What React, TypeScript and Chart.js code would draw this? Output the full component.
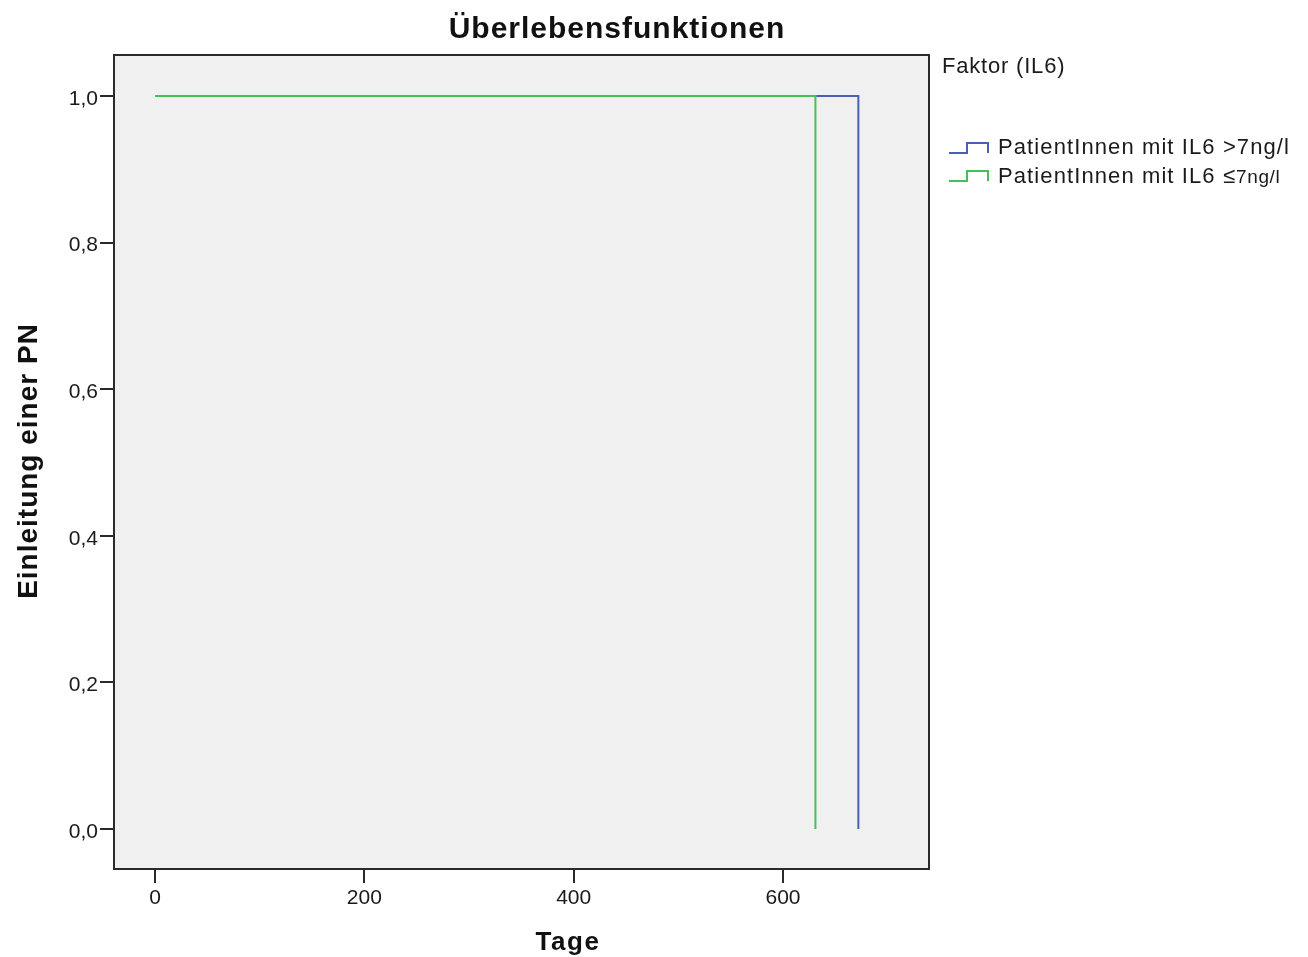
import React, { useEffect, useRef } from "react";
import { Chart, registerables } from "chart.js";

Chart.register(...registerables);

// Kaplan-Meier steps: time in days, cumulative survival
const daysHigh = [0, 672];
const survivalHigh = [1, 0];
const daysLow = [0, 631];
const survivalLow = [1, 0];

const xTickValues = [0, 200, 400, 600];
const yTickValues = [0, 0.2, 0.4, 0.6, 0.8, 1.0];

const chartTitle = "Überlebensfunktionen";
const xTitle = "Tage";
const yTitle = "Einleitung einer PN";
const legendTitle = "Faktor (IL6)";
const legendHighLabel = "PatientInnen mit IL6 >7ng/l";
const legendLowPrefix = "PatientInnen mit IL6 ";
const legendLowSymbol = "≤";
const legendLowUnit = "7ng/l";

const BLUE = "#4a5fb6";
const GREEN = "#45c055";
const FONT = "'Liberation Sans', Arial, sans-serif";

const decorPlugin = {
  id: "spssDecor",
  beforeDatasetsDraw(chart: any) {
    const { ctx, chartArea: a } = chart;
    ctx.save();
    ctx.fillStyle = "#f0f0f0";
    ctx.fillRect(a.left, a.top, a.right - a.left, a.bottom - a.top);
    ctx.restore();
  },
  afterDraw(chart: any) {
    const { ctx, chartArea: a } = chart;
    ctx.save();
    // frame
    ctx.strokeStyle = "#2a2a2a";
    ctx.lineWidth = 2;
    ctx.strokeRect(a.left, a.top, a.right - a.left, a.bottom - a.top);

    ctx.fillStyle = "#111";
    // title
    ctx.font = `bold 30px ${FONT}`;
    (ctx as any).letterSpacing = "1px";
    ctx.textAlign = "center";
    ctx.textBaseline = "alphabetic";
    ctx.fillText(chartTitle, 617, 38);

    // x axis title
    ctx.font = `bold 26px ${FONT}`;
    (ctx as any).letterSpacing = "1.5px";
    ctx.fillText(xTitle, 568, 950);

    // y axis title
    ctx.save();
    ctx.font = `bold 28px ${FONT}`;
    (ctx as any).letterSpacing = "1px";
    ctx.translate(37, 461);
    ctx.rotate(-Math.PI / 2);
    ctx.fillText(yTitle, 0, 0);
    ctx.restore();

    // legend
    ctx.textAlign = "left";
    ctx.fillStyle = "#1a1a1a";
    ctx.font = `22px ${FONT}`;
    (ctx as any).letterSpacing = "0.8px";
    ctx.fillText(legendTitle, 942, 73);

    const drawStep = (color: string, yLow: number) => {
      ctx.strokeStyle = color;
      ctx.lineWidth = 2;
      ctx.beginPath();
      ctx.moveTo(949, yLow);
      ctx.lineTo(967, yLow);
      ctx.lineTo(967, yLow - 10);
      ctx.lineTo(988, yLow - 10);
      ctx.lineTo(988, yLow);
      ctx.stroke();
    };
    drawStep(BLUE, 153);
    drawStep(GREEN, 181);

    (ctx as any).letterSpacing = "1.1px";
    ctx.fillText(legendHighLabel, 998, 154);
    ctx.fillText(legendLowPrefix, 998, 183);
    const w = ctx.measureText(legendLowPrefix).width;
    ctx.fillText(legendLowSymbol, 998 + w, 183);
    const w2 = ctx.measureText(legendLowSymbol).width;
    ctx.font = `19px ${FONT}`;
    (ctx as any).letterSpacing = "0.6px";
    ctx.fillText(legendLowUnit, 998 + w + w2, 183);
    ctx.restore();
  },
};

export default function App() {
  const canvasRef = useRef<HTMLCanvasElement | null>(null);

  useEffect(() => {
    const canvas = canvasRef.current;
    if (!canvas) return;
    const chart = new Chart(canvas, {
      type: "line",
      data: {
        datasets: [
          {
            label: legendLowPrefix + legendLowSymbol + legendLowUnit,
            data: daysLow.map((d, i) => ({ x: d, y: survivalLow[i] })),
            borderColor: GREEN,
            borderWidth: 2,
            pointRadius: 0,
            stepped: "before",
            order: 0,
          },
          {
            label: legendHighLabel,
            data: daysHigh.map((d, i) => ({ x: d, y: survivalHigh[i] })),
            borderColor: BLUE,
            borderWidth: 2,
            pointRadius: 0,
            stepped: "before",
            order: 1,
          },
        ],
      },
      options: {
        responsive: false,
        animation: false,
        events: [],
        layout: { padding: { left: 0, top: 55, right: 379, bottom: 0 } },
        plugins: {
          legend: { display: false },
          title: { display: false },
          tooltip: { enabled: false },
        },
        scales: {
          x: {
            type: "linear",
            min: -39.2,
            max: 739.5,
            afterBuildTicks: (scale: any) => {
              scale.ticks = xTickValues.map((v) => ({ value: v }));
            },
            afterFit: (scale: any) => {
              scale.height = 88;
            },
            border: { display: false },
            grid: {
              display: true,
              drawOnChartArea: false,
              drawTicks: true,
              tickLength: 14,
              color: "#2a2a2a",
              lineWidth: 2,
            },
            ticks: {
              padding: 3,
              color: "#1a1a1a",
              font: { family: FONT, size: 21 },
              maxRotation: 0,
              callback: (v: any) => String(v),
            },
          },
          y: {
            type: "linear",
            min: -0.0546,
            max: 1.0559,
            afterBuildTicks: (scale: any) => {
              scale.ticks = yTickValues.map((v) => ({ value: v }));
            },
            afterFit: (scale: any) => {
              scale.width = 114;
            },
            border: { display: false },
            grid: {
              display: true,
              drawOnChartArea: false,
              drawTicks: true,
              tickLength: 14,
              color: "#2a2a2a",
              lineWidth: 2,
            },
            ticks: {
              padding: 2,
              labelOffset: 3,
              color: "#1a1a1a",
              font: { family: FONT, size: 21 },
              callback: (v: any) => Number(v).toFixed(1).replace(".", ","),
            },
          },
        },
      },
      plugins: [decorPlugin],
    } as any);
    return () => chart.destroy();
  }, []);

  return (
    <div style={{ position: "fixed", left: 0, top: 0, width: 1308, height: 957, background: "#fff" }}>
      <canvas ref={canvasRef} width={1308} height={957} style={{ display: "block" }} />
    </div>
  );
}
